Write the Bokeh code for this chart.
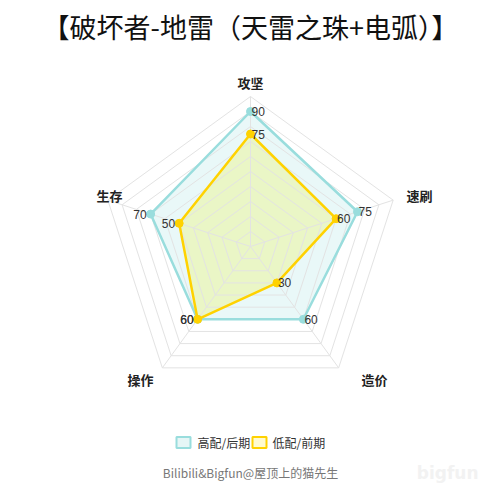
import math
from bokeh.plotting import figure
from bokeh.models import Range1d
from bokeh.core.properties import value
from bokeh.embed import file_html
from bokeh.resources import INLINE

title_text = "【破坏者-地雷（天雷之珠+电弧）】"
categories = ["攻坚", "速刷", "造价", "操作", "生存"]
series_names = ["高配/后期", "低配/前期"]
high_values = [90, 75, 60, 60, 70]
low_values = [75, 60, 30, 60, 50]
max_value = 100
ring_count = 10
footer_text = "Bilibili&Bigfun@屋顶上的猫先生"

W = H = 484
S = 1.5  # pixels per value unit
CX, CY = 250, 246  # center in figure pixels

def px(sx, sy):
    return (sx - CX) / S, (CY - sy) / S

p = figure(width=W, height=H, output_backend="svg", toolbar_location=None,
           x_range=Range1d(-CX / S, (W - CX) / S), y_range=Range1d(-(H - CY) / S, CY / S),
           min_border=0)
p.axis.visible = False
p.grid.visible = False
p.outline_line_color = None
p.background_fill_color = "white"

n = len(categories)
angles = [math.radians(90 - 72 * i) for i in range(n)]

def poly(vals):
    return [v * math.cos(a) for v, a in zip(vals, angles)], [v * math.sin(a) for v, a in zip(vals, angles)]

FONT = "Noto Sans CJK SC"

hx, hy = poly(high_values)
lx, ly = poly(low_values)
p.patch(hx, hy, fill_color="#99dddd", fill_alpha=0.22, line_color=None)
p.patch(lx, ly, fill_color="#f0f000", fill_alpha=0.2, line_color=None)

for k in range(1, ring_count + 1):
    r = max_value * k / ring_count
    gx, gy = poly([r] * n)
    p.line(gx + [gx[0]], gy + [gy[0]], line_color="#e3e3e3", line_width=1)
for a in angles:
    p.line([0, max_value * math.cos(a)], [0, max_value * math.sin(a)], line_color="#e3e3e3", line_width=1)

p.line(hx + [hx[0]], hy + [hy[0]], line_color="#99dddd", line_width=2.5)
p.scatter(hx, hy, size=8, fill_color="#99dddd", line_color="#99dddd")
p.line(lx + [lx[0]], ly + [ly[0]], line_color="#ffd200", line_width=2.5)
p.scatter(lx, ly, size=8, fill_color="#ffd200", line_color="#ffd200")

def value_labels(xs, ys, vals):
    tx, ty, al, txt = [], [], [], []
    for x, y, v, a in zip(xs, ys, vals, angles):
        c = math.cos(a)
        if c < -0.1:
            tx.append(x - 4 / S); al.append("right")
        else:
            tx.append(x + 1 / S); al.append("left")
        ty.append(y)
        txt.append(str(v))
    p.text(tx, ty, text=txt, text_align=al, text_baseline="middle",
           text_font=value("Liberation Sans"), text_font_size="12px", text_color="#333333")

value_labels(hx, hy, high_values)
value_labels(lx, ly, low_values)

cx = [px(250, 0)[0], px(406, 0)[0], px(374, 0)[0], px(140, 0)[0], px(122, 0)[0]]
cy = [px(0, 82)[1], px(0, 195)[1], px(0, 379)[1], px(0, 379)[1], px(0, 195)[1]]
ca = ["center", "left", "center", "center", "right"]
p.text(cx, cy, text=categories, text_align=ca, text_baseline="middle",
       text_font=value(FONT), text_font_size="13px", text_font_style="bold", text_color="#222222")

tx, ty = px(250, 26)
p.text([tx], [ty], text=[title_text], text_align="center", text_baseline="middle",
       text_font=value(FONT), text_font_size="27px", text_color="#111111")

leg_y = px(0, 442)[1]
box_x = [px(183, 0)[0], px(259, 0)[0]]
p.rect(box_x, [leg_y, leg_y], width=14 / S, height=11 / S,
       fill_color=["#e6f6f6", "#fffbd0"], line_color=["#99dddd", "#ffd200"], line_width=2)
p.text([px(197, 0)[0], px(272, 0)[0]], [leg_y, leg_y], text=series_names,
       text_align="left", text_baseline="middle", text_font=value(FONT),
       text_font_size="12px", text_color="#333333")

fx, fy = px(250, 472)
p.text([fx], [fy], text=[footer_text], text_align="center", text_baseline="middle",
       text_font=value(FONT), text_font_size="12px", text_color="#777777")
wx, wy = px(478, 472)
p.text([wx], [wy], text=["bigfun"], text_align="right", text_baseline="middle",
       text_font=value("DejaVu Sans"), text_font_size="17px", text_font_style="bold",
       text_color="#f2f2f2")

open("out.html", "w").write(file_html(p, INLINE))
